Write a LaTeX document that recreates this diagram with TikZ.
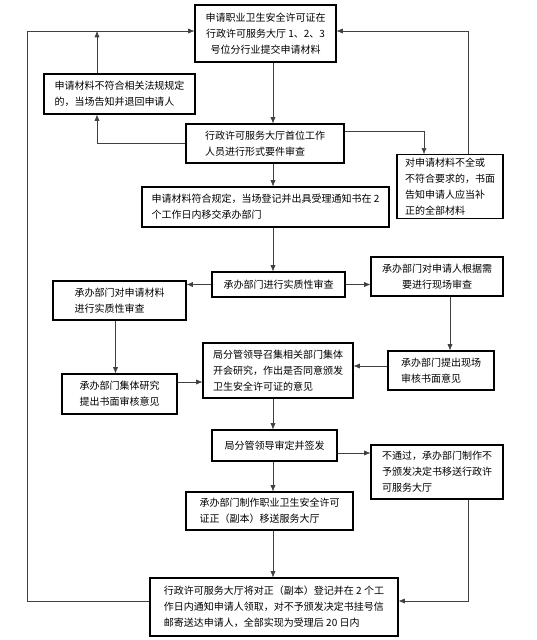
\documentclass[tikz,border=0pt]{standalone}
\usepackage{fontspec}
\setmainfont{Noto Sans CJK SC}
\usepackage{xcolor}
\usetikzlibrary{arrows.meta,positioning}

\begin{document}
\begin{tikzpicture}[
    x=1pt, y=-1pt,
    box/.style={draw, line width=1.1pt, align=left, inner sep=3pt, font=\fontsize{10}{16}\selectfont},
    arr/.style={-{Latex[length=2.2mm,width=1.8mm]}, draw=black!75, line width=0.6pt}
  ]
    \useasboundingbox (0,0) rectangle (536,640);

    \node[box, minimum width=141pt, minimum height=57pt, align=center] (apply) at (265.5,33.5) {申请职业卫生安全许可证在\\行政许可服务大厅 1、2、3\\号位分行业提交申请材料};
    \node[box, minimum width=151pt, minimum height=40pt] (reject) at (119.5,94) {申请材料不符合相关法规规定\\的，当场告知并退回申请人};
    \node[box, minimum width=158pt, minimum height=39pt] (formal) at (265,143.5) {行政许可服务大厅首位工作\\人员进行形式要件审查};
    \node[box, minimum width=106pt, minimum height=63pt] (supply) at (450,186.5) {对申请材料不全或\\不符合要求的，书面\\告知申请人应当补\\正的全部材料};
    \node[box, minimum width=247pt, minimum height=40pt] (accept) at (265.5,207) {申请材料符合规定，当场登记并出具受理通知书在 2\\个工作日内移交承办部门};

    \node[box, minimum width=133pt, minimum height=25pt] (review) at (278.5,284.5) {承办部门进行实质性审查};
    \node[box, minimum width=133pt, minimum height=39pt] (docrev) at (119.5,300.5) {承办部门对申请材料\\进行实质性审查};
    \node[box, minimum width=132pt, minimum height=39pt, align=center] (siterev) at (437,276.5) {承办部门对申请人根据需\\要进行现场审查};
    \node[box, minimum width=106pt, minimum height=39pt] (siteop) at (441,370.5) {承办部门提出现场\\审核书面意见};
    \node[box, minimum width=115pt, minimum height=40pt] (docop) at (119.5,394) {承办部门集体研究\\提出书面审核意见};
    \node[box, minimum width=150pt, minimum height=55pt] (meet) at (278,370.5) {局分管领导召集相关部门集体\\开会研究，作出是否同意颁发\\卫生安全许可证的意见};

    \node[box, minimum width=125pt, minimum height=31pt] (sign) at (274.5,445.5) {局分管领导审定并签发};
    \node[box, minimum width=132pt, minimum height=54pt] (refuse) at (437,472) {不通过，承办部门制作不\\予颁发决定书移送行政许\\可服务大厅};
    \node[box, minimum width=167pt, minimum height=38pt] (issue) at (269.5,511) {承办部门制作职业卫生安全许可\\证正（副本）移送服务大厅};
    \node[box, minimum width=248pt, minimum height=58pt] (deliver) at (274,607) {行政许可服务大厅将对正（副本）登记并在 2 个工\\作日内通知申请人领取，对不予颁发决定书挂号信\\邮寄送达申请人，全部实现为受理后 20 日内};

    % rails and turning points
    \coordinate (spine) at (273,0);
    \coordinate (lrail) at (27,0);
    \coordinate (rrail) at (468,0);
    \coordinate (toprow) at (0,31);
    \coordinate (botrow) at (0,601);
    \coordinate (retx) at (97,0);
    \coordinate (supx) at (424,0);

    % main line
    \draw[arr] (apply.south -| spine) -- (formal.north -| spine);
    \draw[arr] (formal.south -| spine) -- (accept.north -| spine);
    \draw[arr] (accept.south -| spine) -- (review.north -| spine);
    \draw[arr] (meet.south -| spine) -- (sign.north -| spine);
    \draw[arr] (sign.south -| spine) -- (issue.north -| spine);
    \draw[arr] (issue.south -| spine) -- (deliver.north -| spine);

    % formal check branches
    \draw[arr] (formal.west) -| (reject.south -| retx);
    \draw[arr] (reject.north -| retx) -- (retx |- toprow);
    \draw[arr] ([yshift=-8pt]formal.north east) -| (supply.north -| supx);
    \draw[arr] (supply.north -| rrail) |- (apply.east |- toprow);

    % review branches
    \draw[arr] (review.west) -- (docrev.east |- review.west);
    \draw[arr] (review.east) -- (siterev.west |- review.east);
    \draw[arr] ([xshift=-4pt]docrev.south) -- ([xshift=-4pt]docrev.south |- docop.north);
    \draw[arr] (siterev.south -| 450,0) -- (siteop.north -| 450,0);
    \draw[arr] ([yshift=12pt]docop.east) -- (meet.west |- 0,382);
    \draw[arr] ([yshift=4.5pt]siteop.west) -- (meet.east |- 0,366);

    % decision
    \draw[arr] ([yshift=-7.5pt]sign.east) -- (refuse.west |- 0,453);
    \draw[arr] (refuse.south -| rrail) |- (deliver.east |- botrow);
    \draw[arr] (deliver.west |- botrow) -| (lrail |- toprow) -- (apply.west |- toprow);
\end{tikzpicture}
\end{document}
